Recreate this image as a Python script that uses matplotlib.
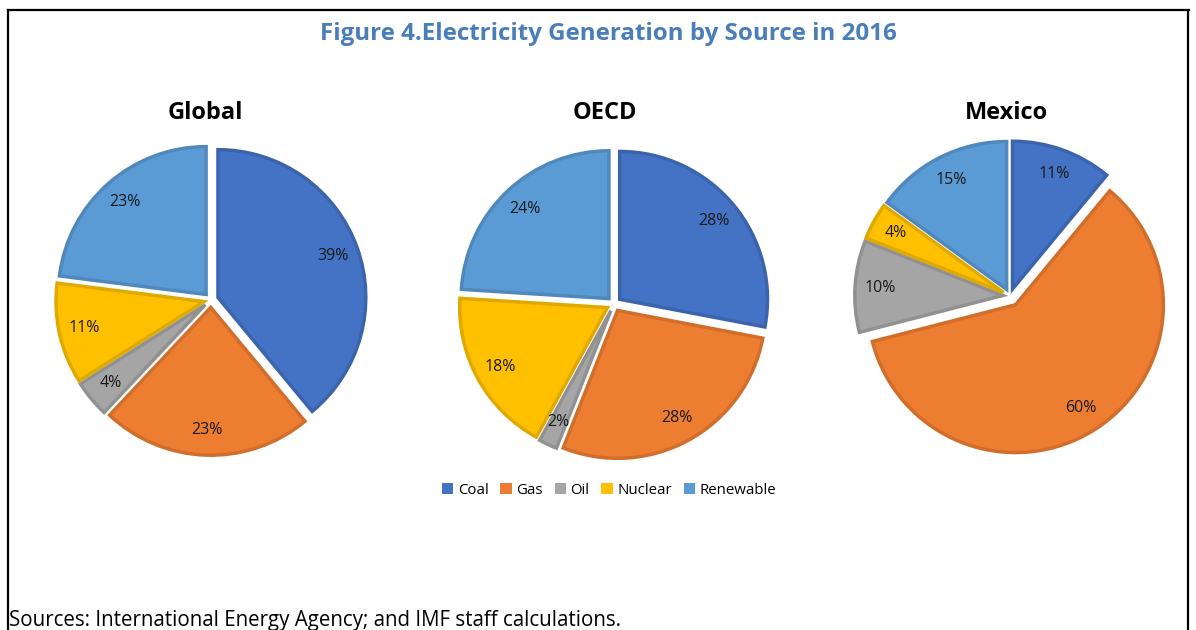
import matplotlib.pyplot as plt
from matplotlib.lines import Line2D
from matplotlib.patches import Patch
import matplotlib.colors as mcolors

plt.rcParams['font.family'] = ['Open Sans', 'DejaVu Sans']

# ---- data ----
SOURCES = ['Coal', 'Gas', 'Oil', 'Nuclear', 'Renewable']
GLOBAL = [39, 23, 4, 11, 23]
OECD = [28, 28, 2, 18, 24]
MEXICO = [11, 60, 10, 4, 15]
PANEL_TITLES = ['Global', 'OECD', 'Mexico']
COLORS = ['#4472C4', '#ED7D31', '#A5A5A5', '#FFC000', '#5B9BD5']

TITLE = 'Figure 4.Electricity Generation by Source in 2016'
NOTE = 'Sources: International Energy Agency; and IMF staff calculations.'

W, H = 1196, 630
fig = plt.figure(figsize=(W / 100, H / 100), dpi=100)


def darker(c, f=0.88):
    r, g, b = mcolors.to_rgb(c)
    return (r * f, g * f, b * f)


edge_colors = [darker(c) for c in COLORS]

# pie centres in pixels (x from left, y from top)
centers = [(211, 300), (614, 304), (1010, 296)]
title_pos = [(205, 113), (605, 113), (1006, 113)]
explodes = [
    [0.05, 0.05, 0.05, 0.05, 0.05],
    [0.05, 0.05, 0.05, 0.05, 0.05],
    [0.05, 0.07, 0.05, 0.05, 0.05],
]
box = 340
for vals, (cx, cy), ex, name, (tx, ty) in zip([GLOBAL, OECD, MEXICO], centers, explodes,
                                              PANEL_TITLES, title_pos):
    ax = fig.add_axes([(cx - box / 2) / W, (H - cy - box / 2) / H, box / W, box / H])
    ax.pie(vals, colors=COLORS, startangle=90, counterclock=False, explode=ex,
           autopct='%d%%', pctdistance=0.83,
           wedgeprops=dict(linewidth=2.5, edgecolor='none'),
           textprops=dict(fontsize=11.5, color='#1a1a1a'))
    for w, ec in zip(ax.patches, edge_colors):
        w.set_edgecolor(ec)
        w.set_joinstyle('miter')
    ax.set_xlim(-1.15, 1.15)
    ax.set_ylim(-1.15, 1.15)
    ax.set_aspect('equal')
    ax.axis('off')
    fig.text(tx / W, 1 - ty / H, name, ha='center', va='center',
             fontsize=17, fontweight='bold', color='black')

# title
fig.text(608 / W, 1 - 34 / H, TITLE, ha='center', va='center',
         fontsize=17.4, fontweight='bold', color='#4A7EBB')

# legend
handles = [Patch(facecolor=c, edgecolor='none') for c in COLORS]
fig.legend(handles, SOURCES, loc='center', bbox_to_anchor=(609 / W, 1 - 490 / H),
           ncol=5, frameon=False, fontsize=10.8, handlelength=0.75, handleheight=0.75,
           columnspacing=0.8, handletextpad=0.3)

# source note
fig.text(9 / W, 1 - 626 / H, NOTE, ha='left', va='baseline', fontsize=14.8, color='black')

# border (top, left, right)
for xs, ys in [((8, 1189), (10, 10)), ((8, 8), (10, 640)), ((1188, 1188), (10, 640))]:
    fig.add_artist(Line2D([x / W for x in xs], [1 - y / H for y in ys],
                          color='black', linewidth=1.6, transform=fig.transFigure))

fig.savefig('out.png', dpi=100)
